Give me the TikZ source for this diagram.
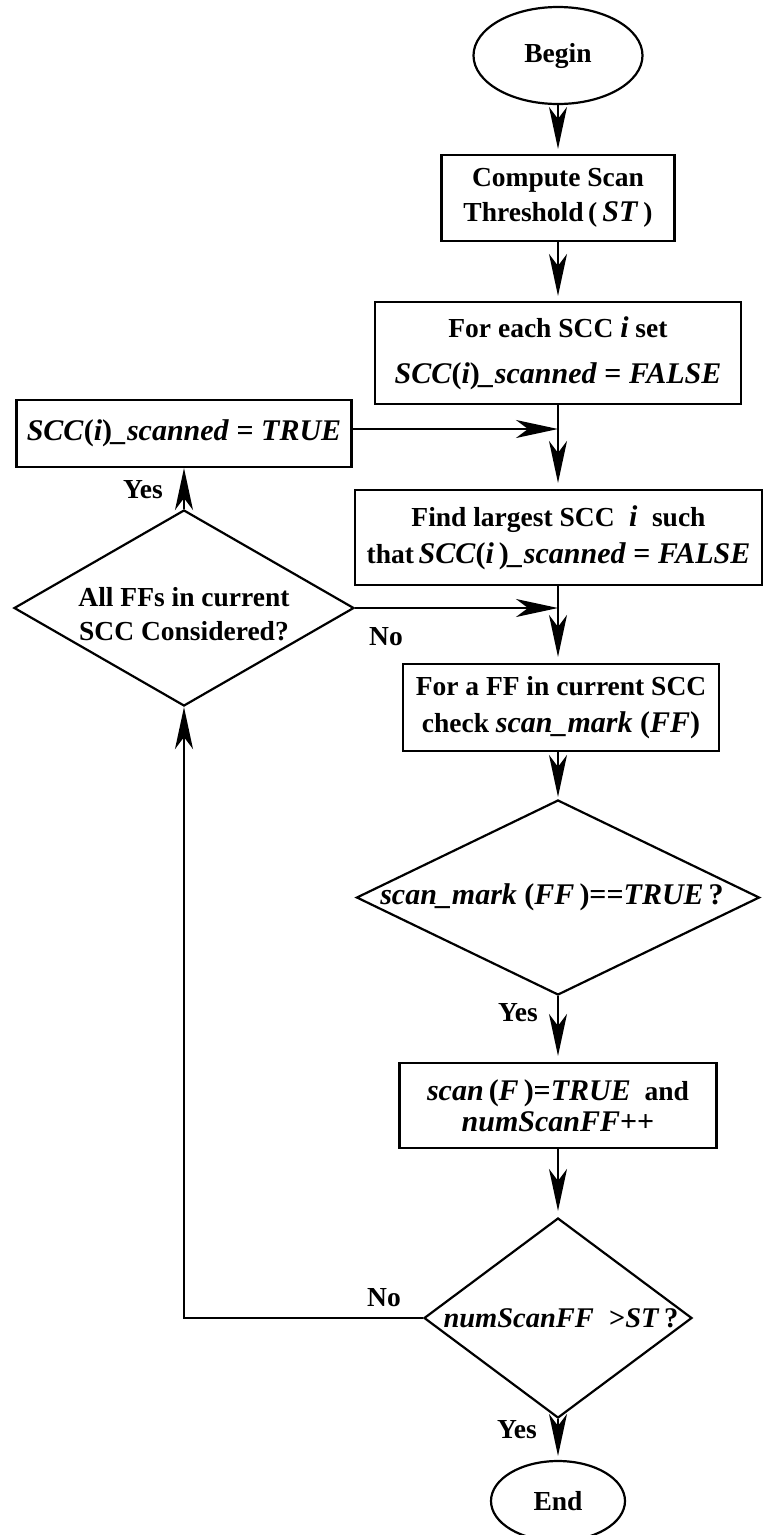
\documentclass[tikz,border=0pt]{standalone}
\usepackage{fontspec}
\setmainfont{Liberation Serif}
\usetikzlibrary{shapes.geometric,arrows.meta}
\newcommand{\fm}[1]{{\fontsize{30}{33}\selectfont #1}}
\begin{document}
\begin{tikzpicture}[x=1pt,y=-1pt,
  every node/.style={font=\fontsize{27.5}{35}\selectfont\bfseries},
  box/.style={draw, line width=2.2pt, inner sep=0pt, align=center},
  term/.style={draw, ellipse, line width=2.2pt, inner sep=0pt},
  dia/.style={draw, diamond, line width=2.2pt, inner sep=0pt},
  flow/.style={line width=2.2pt, -{Stealth[length=42pt,width=18pt,inset=12pt]}},
  lbl/.style={inner sep=0pt, align=center}
]
\useasboundingbox (0,0) rectangle (764,1535);

% terminals and boxes
\node[term, minimum width=169pt, minimum height=97pt] (begin) at (558,55.5) {Begin};
\node[box, minimum width=233pt, minimum height=86pt] (compute) at (558,198)
  {Compute Scan\\Threshold\,(\fm{\,\textit{ST}\,})};
\node[box, minimum width=366pt, minimum height=102pt] (init) at (558,353)
  {For each SCC \fm{\textit{i}} set\\[11pt]\fm{\textit{SCC}(\textit{i})\textit{\_scanned} = \textit{FALSE}}};
\node[box, minimum width=335pt, minimum height=67pt] (settrue) at (184,433.5)
  {\fm{\textit{SCC}(\textit{i})\textit{\_scanned} = \textit{TRUE}}};
\node[box, minimum width=407pt, minimum height=95pt] (find) at (558.5,537.5)
  {Find largest SCC \;\fm{\textit{i}}\; such\\[2pt]that\,\fm{\textit{SCC}(\textit{i}\,)\textit{\_scanned} = \textit{FALSE}}};
\node[box, minimum width=316pt, minimum height=87pt] (check) at (561,707.5)
  {For a FF in current SCC\\[2pt]check \fm{\textit{scan\_mark} (\textit{FF})}};
\node[box, minimum width=317pt, minimum height=85pt] (scanbox) at (558,1105.5)
  {\fm{\textit{scan}\,(\textit{F}\,)=\textit{TRUE}}\enspace and\\[-4pt]\fm{\textit{numScanFF}++}};
\node[term, minimum width=134pt, minimum height=80pt] (end) at (558,1501) {End};

% decisions
\node[dia, minimum width=340pt, minimum height=196pt] (allff) at (184,608) {};
\node[lbl] (allfft) at ([yshift=-6pt]allff.center) {All FFs in current\\[-1pt]SCC Considered?};
\node[dia, minimum width=403pt, minimum height=195pt] (mark) at (558,897.5) {};
\node[lbl] (markt) at ([xshift=-6pt]mark.center)
  {\fm{\textit{scan\_mark} (\textit{FF}\,)==\textit{TRUE}\,?}};
\node[dia, minimum width=268pt, minimum height=200pt] (num) at (558,1318) {};
\node[lbl, font=\fontsize{28.5}{33}\selectfont\bfseries] (numt) at ([xshift=3pt]num.center)
  {\textit{numScanFF}\; >\textit{ST}\,?};

% edge labels
\node[lbl] (yes1) at (143,490) {Yes};
\node[lbl] (no1) at (386,637) {No};
\node[lbl] (yes2) at (518,1013) {Yes};
\node[lbl] (no2) at (384,1298) {No};
\node[lbl] (yes3) at (517,1430) {Yes};

% junctions
\coordinate (j1) at (558,429);
\coordinate (j2) at (558,608);
\coordinate (c1) at (184,1318);

% connectors
\draw[flow, shorten >=5pt] (begin.south) -- (compute.north);
\draw[flow, shorten >=5pt] (compute.south) -- (init.north);
\draw[flow, shorten >=6pt] (init.south) -- (init.south |- find.north);
\draw[flow] (settrue.east |- j1) -- (j1);
\draw[flow] (allff.north) -- (settrue.south);
\draw[flow] (allff.east) -- (j2);
\draw[flow, shorten >=6pt] (find.south -| j2) -- (j2 |- check.north);
\draw[flow, shorten >=2pt] (j2 |- check.south) -- (mark.north);
\draw[flow, shorten >=6pt] (mark.south) -- (scanbox.north);
\draw[flow, shorten >=6pt] (scanbox.south) -- (num.north);
\draw[flow, shorten >=4pt] (num.south) -- (end.north);
\draw[flow] (num.west) -- (c1) -- (allff.south);
\end{tikzpicture}
\end{document}
